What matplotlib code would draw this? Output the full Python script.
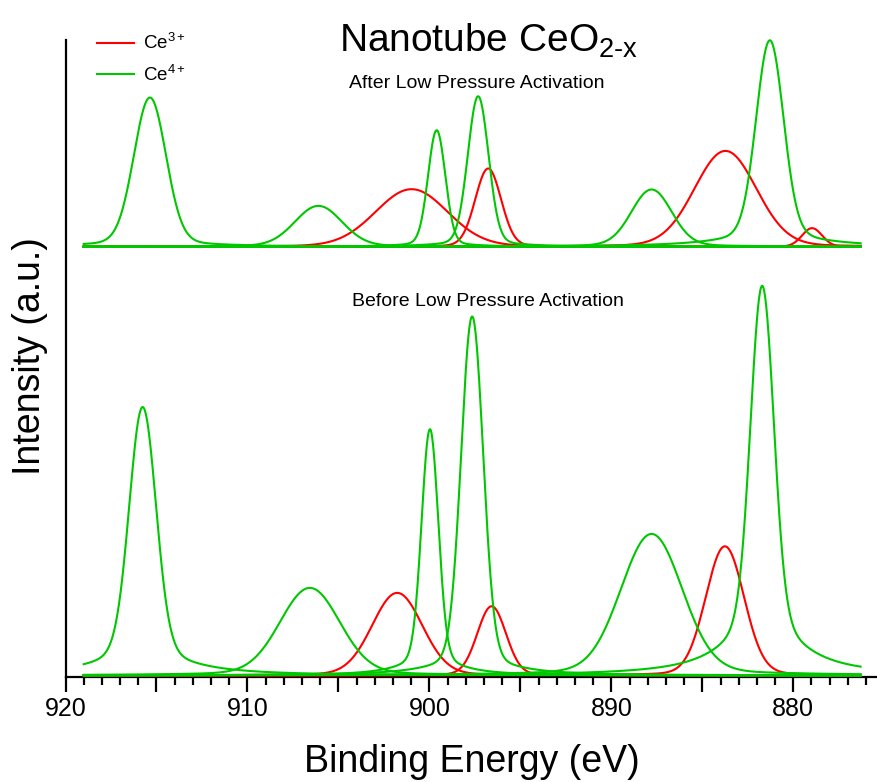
import numpy as np
import matplotlib.pyplot as plt
from matplotlib.ticker import MultipleLocator, FuncFormatter

plt.rcParams['font.family'] = ['Liberation Sans', 'DejaVu Sans']
plt.rcParams['mathtext.fontset'] = 'custom'
plt.rcParams['mathtext.rm'] = 'Liberation Sans'
plt.rcParams['mathtext.it'] = 'Liberation Sans:italic'
plt.rcParams['mathtext.bf'] = 'Liberation Sans:bold'

# fitted components (centre eV, height a.u., FWHM eV, tail fraction)
before_ce4_center = [915.76, 906.57, 899.97, 897.65, 887.79, 881.71]
before_ce4_height = [268.7, 87.7, 246.5, 359.3, 141.7, 390.0]
before_ce4_fwhm = [1.70, 3.80, 1.06, 1.40, 3.90, 1.47]
before_ce4_tail = [0.12, 0.05, 0.10, 0.07, 0.05, 0.18]

before_ce3_center = [901.77, 896.58, 883.76]
before_ce3_height = [82.7, 69.3, 129.3]
before_ce3_fwhm = [3.20, 1.83, 2.45]
before_ce3_tail = [0.03, 0.03, 0.03]

after_ce4_center = [915.36, 906.10, 899.60, 897.32, 887.79, 881.29]
after_ce4_height = [149.4, 41.0, 116.7, 150.7, 57.4, 206.7]
after_ce4_fwhm = [2.05, 3.00, 1.10, 1.32, 2.56, 1.74]
after_ce4_tail = [0.05, 0.05, 0.05, 0.05, 0.05, 0.09]

after_ce3_center = [900.98, 896.77, 883.73, 878.97]
after_ce3_height = [57.7, 78.4, 96.0, 18.7]
after_ce3_fwhm = [4.60, 1.65, 3.95, 1.28]
after_ce3_tail = [0.03, 0.03, 0.03, 0.03]

after_offset = 429.0
energy = np.linspace(919.0, 876.3, 1500)

RED = '#ff0000'
GREEN = '#00c800'


def component(c, h, w, t):
    # gaussian core plus a broad lorentzian wing
    g = np.exp(-4 * np.log(2) * ((energy - c) / w) ** 2)
    l = 1.0 / (1.0 + 4 * ((energy - c) / (2.8 * w)) ** 2)
    return h * ((1 - t) * g + t * l)


fig = plt.figure(figsize=(8.77, 7.82), dpi=100)
ax = fig.add_axes([65.5 / 877, 105 / 782, 811.5 / 877, 642 / 782])

sets = [
    (before_ce3_center, before_ce3_height, before_ce3_fwhm, before_ce3_tail, RED, 0.0),
    (before_ce4_center, before_ce4_height, before_ce4_fwhm, before_ce4_tail, GREEN, 0.0),
    (after_ce3_center, after_ce3_height, after_ce3_fwhm, after_ce3_tail, RED, after_offset),
    (after_ce4_center, after_ce4_height, after_ce4_fwhm, after_ce4_tail, GREEN, after_offset),
]
for cs, hs, ws, ts, col, off in sets:
    for c, h, w, t in zip(cs, hs, ws, ts):
        ax.plot(energy, component(c, h, w, t) + off, color=col, lw=1.5, zorder=3)

ax.set_xlim(920, 875.4)
ax.set_ylim(-1.5, 641)

for s in ['top', 'right']:
    ax.spines[s].set_visible(False)
ax.spines['left'].set_linewidth(1.6)
ax.spines['bottom'].set_linewidth(1.6)
ax.spines['left'].set_bounds(-1.5, 636)
ax.set_yticks([])

ax.xaxis.set_major_locator(MultipleLocator(5))
ax.xaxis.set_minor_locator(MultipleLocator(1))
ax.xaxis.set_major_formatter(FuncFormatter(lambda v, p: '%d' % round(v) if round(v) % 10 == 0 else ''))
ax.tick_params(axis='x', which='major', length=11, width=1.6, labelsize=18, pad=3.5)
ax.tick_params(axis='x', which='minor', length=6, width=1.6)

# legend
ax.plot([], [], color=RED, lw=1.5, label='Ce$^{3+}$')
ax.plot([], [], color=GREEN, lw=1.5, label='Ce$^{4+}$')
ax.legend(loc='upper left', bbox_to_anchor=(97 / 877, 1 - 33 / 782), bbox_transform=fig.transFigure,
          frameon=False, fontsize=13.5, handlelength=1.97, handletextpad=0.48, labelspacing=0.62,
          borderpad=0, borderaxespad=0)

fig.text(489 / 877, 1 - 52 / 782, 'Nanotube CeO$_{2\\text{-x}}$', fontsize=28, ha='center', va='baseline')
fig.text(477 / 877, 1 - 84 / 782, 'After Low Pressure Activation', fontsize=14, ha='center', va='center')
fig.text(488 / 877, 1 - 301 / 782, 'Before Low Pressure Activation', fontsize=14, ha='center', va='center')
fig.text(472 / 877, 1 - 772 / 782, 'Binding Energy (eV)', fontsize=27, ha='center', va='baseline')
fig.text(30 / 877, 1 - 356 / 782, 'Intensity (a.u.)', fontsize=27, rotation=90, ha='center', va='center')

fig.savefig('out.png', dpi=100)
